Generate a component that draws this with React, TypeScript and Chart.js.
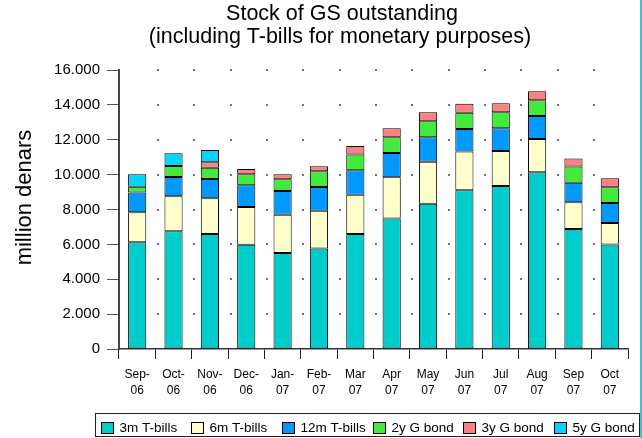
import React, { useEffect, useRef } from 'react';
import { Chart, registerables } from 'chart.js';

Chart.register(...registerables);

// ---------- data ----------
const categories: string[][] = [
  ['Sep-', '06'], ['Oct-', '06'], ['Nov-', '06'], ['Dec-', '06'], ['Jan-', '07'], ['Feb-', '07'],
  ['Mar', '07'], ['Apr', '07'], ['May', '07'], ['Jun', '07'], ['Jul', '07'], ['Aug', '07'],
  ['Sep', '07'], ['Oct', '07'],
];
const seriesNames = ['3m T-bills', '6m T-bills', '12m T-bills', '2y G bond', '3y G bond', '5y G bond'];
const tBills3m = [6120, 6750, 6600, 5980, 5510, 5770, 6600, 7490, 8330, 9100, 9350, 10130, 6880, 6000];
const tBills6m = [1720, 2010, 2040, 2160, 2190, 2160, 2250, 2360, 2410, 2220, 2010, 1910, 1530, 1230];
const tBills12m = [1130, 1100, 1110, 1250, 1360, 1360, 1400, 1390, 1400, 1300, 1300, 1320, 1130, 1140];
const bond2y = [340, 640, 650, 630, 670, 900, 900, 900, 920, 930, 910, 900, 920, 900];
const bond3y: (number | null)[] = [null, null, 310, 300, 290, 290, 490, 520, 510, 520, 520, 520, 470, 520];
const bond5y: (number | null)[] = [710, 720, 700, null, null, null, null, null, null, null, null, null, null, null];
const seriesColors = ['#00CCCC', '#FFFFCC', '#0099FF', '#40EB3C', '#FF8080', '#00D4FF'];
const yMin = 0;
const yMax = 16000;
const yStep = 2000;
const titleLines = ['Stock of GS outstanding', '(including T-bills for monetary purposes)'];
const yAxisTitle = 'million denars';

const FONT = '"Liberation Sans", Arial, Helvetica, sans-serif';

const formatThousands = (v: number) => {
  const s = Math.round(v).toString();
  return s.replace(/\B(?=(\d{3})+(?!\d))/g, '.');
};

const decorPlugin = {
  id: 'decor',
  beforeDatasetsDraw(chart: any) {
    const { ctx, scales } = chart;
    const xs = scales.x;
    const ys = scales.y;
    const n = categories.length;
    ctx.save();
    ctx.fillStyle = '#707070';
    for (let k = 1; k < n; k++) {
      const bx = (xs.getPixelForValue(k - 1) + xs.getPixelForValue(k)) / 2 + 2.5;
      ys.ticks.forEach((t: any) => {
        if (t.value === 0) return;
        const py = ys.getPixelForValue(t.value);
        ctx.fillRect(Math.round(bx) - 1, Math.round(py) - 1, 2, 2);
      });
    }
    ctx.restore();
  },
  afterDraw(chart: any) {
    const { ctx } = chart;
    ctx.save();
    // title
    ctx.fillStyle = '#000';
    ctx.font = `21.5px ${FONT}`;
    ctx.textAlign = 'center';
    ctx.textBaseline = 'middle';
    ctx.fillText(titleLines[0], 342, 14);
    ctx.fillText(titleLines[1], 340, 37);
    // y axis title
    ctx.save();
    ctx.translate(25, 197.5);
    ctx.rotate(-Math.PI / 2);
    ctx.font = `22px ${FONT}`;
    ctx.fillText(yAxisTitle, 0, 0);
    ctx.restore();
    // legend
    const left = 95.5, top = 413.5, width = 544, height = 23;
    ctx.strokeStyle = '#222';
    ctx.lineWidth = 1;
    ctx.strokeRect(left, top, width, height);
    const col = width / chart.data.datasets.length;
    ctx.font = `13.5px ${FONT}`;
    ctx.textAlign = 'left';
    chart.data.datasets.forEach((ds: any, i: number) => {
      const x = Math.round(left + i * col + 5);
      ctx.fillStyle = ds.backgroundColor;
      ctx.fillRect(x, 422, 13, 12);
      ctx.strokeStyle = '#000';
      ctx.strokeRect(x + 0.5, 422.5, 12, 11);
      ctx.fillStyle = '#000';
      ctx.fillText(ds.label, x + 18.5, 428.5);
    });
    // right edge line
    ctx.fillStyle = '#33CCCC';
    ctx.fillRect(640, 0, 2, 438);
    ctx.restore();
  },
};

export default function App() {
  const canvasRef = useRef<HTMLCanvasElement | null>(null);

  useEffect(() => {
    if (!canvasRef.current) return;
    Chart.defaults.font.family = FONT;
    const series = [tBills3m, tBills6m, tBills12m, bond2y, bond3y, bond5y];
    const chart = new Chart(canvasRef.current, {
      type: 'bar',
      data: {
        labels: categories,
        datasets: series.map((d, i) => ({
          label: seriesNames[i],
          data: d,
          backgroundColor: seriesColors[i],
          borderColor: '#000',
          borderWidth: 1,
          borderSkipped: false,
          barPercentage: 0.5,
          categoryPercentage: 1,
        })),
      },
      options: {
        responsive: false,
        animation: false,
        devicePixelRatio: 1,
        layout: { padding: { top: 70, left: 0, right: 14, bottom: 30 } },
        plugins: {
          legend: { display: false },
          title: { display: false },
          tooltip: { enabled: false },
        },
        scales: {
          x: {
            stacked: true,
            afterFit: (s: any) => { s.height = 59; },
            grid: {
              display: true,
              drawOnChartArea: false,
              drawTicks: true,
              tickLength: 10,
              offset: true,
              color: (c: any) => (c.index === categories.length ? 'rgba(0,0,0,0)' : '#222'),
            },
            border: { display: true, color: '#333', width: 1.5 },
            ticks: {
              color: '#000',
              font: { size: 12, lineHeight: 1.33 },
              padding: 8,
              maxRotation: 0,
              autoSkip: false,
            },
          },
          y: {
            stacked: true,
            min: yMin,
            max: yMax,
            afterFit: (s: any) => { s.width = 119; },
            grid: {
              display: true,
              drawOnChartArea: false,
              drawTicks: true,
              tickLength: 12,
              color: '#555',
            },
            border: { display: true, color: '#444', width: 2 },
            ticks: {
              stepSize: yStep,
              color: '#000',
              font: { size: 15 },
              padding: 7,
              callback: (v: any) => formatThousands(Number(v)),
            },
          },
        },
      },
      plugins: [decorPlugin],
    });
    return () => chart.destroy();
  }, []);

  return (
    <div style={{ position: 'absolute', left: 0, top: 0, width: 642, height: 438, background: '#fff' }}>
      <canvas ref={canvasRef} width={642} height={438} />
    </div>
  );
}
